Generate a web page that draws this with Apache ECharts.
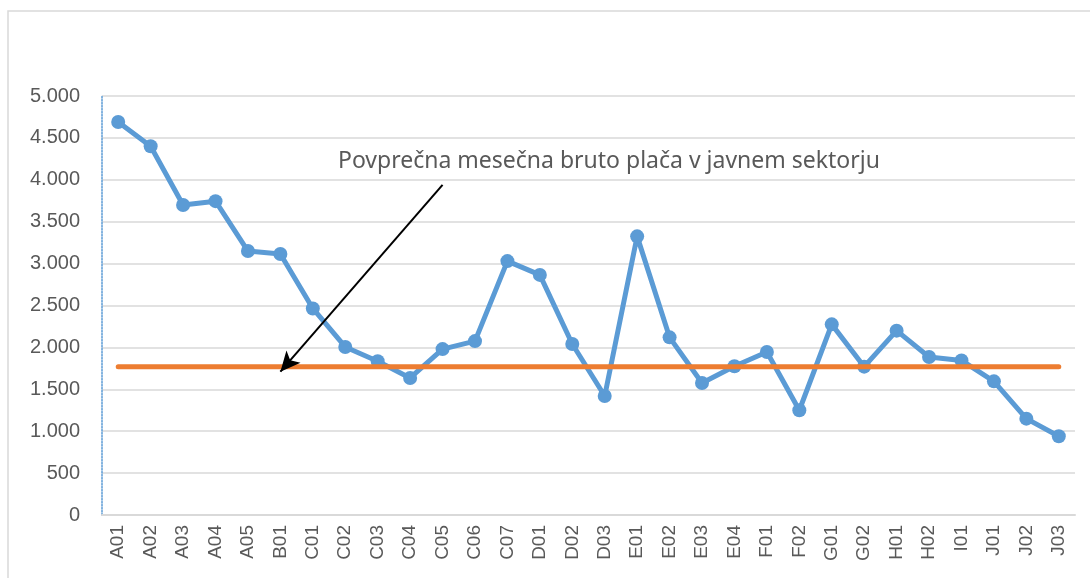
<!DOCTYPE html>
<html>
<head>
<meta charset="utf-8">
<script src="https://cdn.jsdelivr.net/npm/echarts@6/dist/echarts.min.js"></script>
<style>
  html, body { margin: 0; padding: 0; background: #fff; }
  #chart { width: 1090px; height: 578px; }
</style>
</head>
<body>
<div id="chart"></div>
<script>
// kategorije dejavnosti
const categories = ['A01', 'A02', 'A03', 'A04', 'A05', 'B01', 'C01', 'C02', 'C03', 'C04',
  'C05', 'C06', 'C07', 'D01', 'D02', 'D03', 'E01', 'E02', 'E03', 'E04',
  'F01', 'F02', 'G01', 'G02', 'H01', 'H02', 'I01', 'J01', 'J02', 'J03'];

// povprecna placa po dejavnosti
const salaries = [4690, 4400, 3700, 3745, 3150, 3115, 2465, 2005, 1835, 1635,
  1980, 2075, 3030, 2865, 2040, 1420, 3325, 2120, 1575, 1775,
  1945, 1250, 2275, 1770, 2200, 1885, 1845, 1595, 1150, 940];

// javni sektor (konstanta)
const publicSector = categories.map(() => 1770);

const yTicks = { min: 0, max: 5000, interval: 500 };
const annotation = 'Povprečna mesečna bruto plača v javnem sektorju';
const arrowFrom = [10, 3940];
const arrowTo = [5, 1710];

const myChart = echarts.init(document.getElementById('chart'));

const option = {
  animation: false,
  grid: { left: 102, right: 15, top: 96, bottom: 63 },
  graphic: [
    {
      type: 'rect',
      shape: { x: 8, y: 11, width: 1100, height: 600 },
      style: { fill: 'none', stroke: '#d9d9d9', lineWidth: 1.5 },
      silent: true
    },
    {
      type: 'text',
      left: 338,
      top: 150,
      style: {
        text: annotation,
        fill: '#595959',
        font: '23px "Liberation Sans Narrow", "Noto Sans", sans-serif'
      }
    }
  ],
  xAxis: {
    type: 'category',
    data: categories,
    boundaryGap: true,
    axisLine: { lineStyle: { color: '#d9d9d9', width: 2 } },
    axisTick: { show: false },
    axisLabel: {
      rotate: 90,
      interval: 0,
      margin: 10,
      color: '#595959',
      fontSize: 19,
      fontFamily: 'Liberation Sans, Arial, sans-serif'
    }
  },
  yAxis: {
    type: 'value',
    min: yTicks.min,
    max: yTicks.max,
    interval: yTicks.interval,
    axisLine: { show: true, lineStyle: { color: '#5b9bd5', width: 1.5, type: 'dotted' } },
    axisTick: { show: false },
    splitLine: { lineStyle: { color: '#d9d9d9', width: 1.5 } },
    axisLabel: {
      margin: 22,
      color: '#595959',
      fontSize: 20,
      fontFamily: 'Liberation Sans, Arial, sans-serif',
      formatter: v => v.toString().replace(/\B(?=(\d{3})+(?!\d))/g, '.')
    }
  },
  series: [
    {
      name: 'Plača',
      type: 'line',
      data: salaries,
      symbol: 'circle',
      symbolSize: 14,
      z: 3,
      lineStyle: { color: '#5b9bd5', width: 5 },
      itemStyle: { color: '#5b9bd5' }
    },
    {
      name: 'Javni sektor',
      type: 'line',
      data: publicSector,
      symbol: 'none',
      z: 4,
      lineStyle: { color: '#ed7d31', width: 5, cap: 'round' },
      markLine: {
        silent: true,
        symbol: ['none', 'arrow'],
        symbolSize: [14, 20],
        label: { show: false },
        lineStyle: { color: '#000', width: 2, type: 'solid' },
        data: [[{ coord: arrowFrom }, { coord: arrowTo }]]
      }
    }
  ]
};

myChart.setOption(option);
</script>
</body>
</html>
